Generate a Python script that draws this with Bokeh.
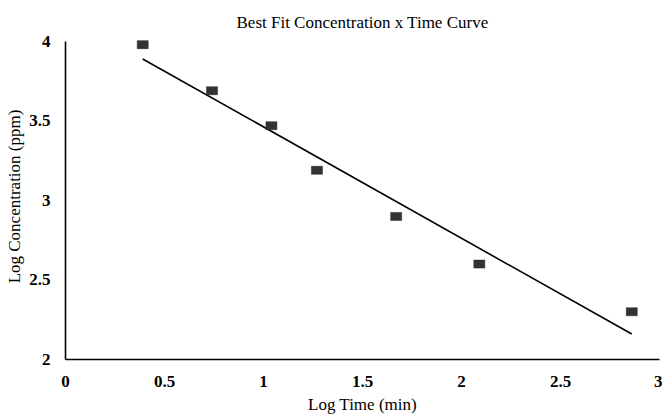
from bokeh.plotting import figure
from bokeh.models import Range1d, FixedTicker
from bokeh.embed import file_html
from bokeh.resources import INLINE

# Data
log_time = [0.39, 0.74, 1.04, 1.27, 1.67, 2.09, 2.86]
log_conc = [3.98, 3.69, 3.47, 3.19, 2.90, 2.60, 2.30]
fit_time = [0.39, 2.86]
fit_conc = [3.89, 2.16]
x_ticks = [0, 0.5, 1, 1.5, 2, 2.5, 3]
y_ticks = [2, 2.5, 3, 3.5, 4]

FONT = "Liberation Serif"

p = figure(width=662, height=418, output_backend="svg", toolbar_location=None,
           x_range=Range1d(0, 3), y_range=Range1d(2, 4.05),
           min_border_left=65, min_border_right=3, min_border_top=33,
           min_border_bottom=59,
           title="Best Fit Concentration x Time Curve")

p.title.text_font = FONT
p.title.text_font_size = "17px"
p.title.text_font_style = "normal"
p.title.align = "center"
p.title.standoff = 4
p.title.text_color = "black"

p.outline_line_color = None
p.grid.visible = False
p.background_fill_color = "white"
p.border_fill_color = "white"

for ax in (p.xaxis[0], p.yaxis[0]):
    ax.major_tick_line_color = None
    ax.minor_tick_line_color = None
    ax.major_tick_out = 0
    ax.major_tick_in = 0
    ax.axis_line_color = "black"
    ax.axis_line_width = 1.6
    ax.major_label_text_font = FONT
    ax.major_label_text_font_size = "17px"
    ax.major_label_text_font_style = "bold"
    ax.major_label_text_color = "black"
    ax.axis_label_text_font = FONT
    ax.axis_label_text_font_size = "17px"
    ax.axis_label_text_font_style = "normal"
    ax.axis_label_text_color = "black"

p.xaxis.ticker = FixedTicker(ticks=x_ticks)
p.yaxis.ticker = FixedTicker(ticks=y_ticks)
p.xaxis.major_label_overrides = {0: "0", 0.5: "0.5", 1: "1", 1.5: "1.5", 2: "2", 2.5: "2.5", 3: "3"}
p.yaxis.major_label_overrides = {2: "2", 2.5: "2.5", 3: "3", 3.5: "3.5", 4: "4"}
p.yaxis.bounds = (2, 4)
p.xaxis.axis_label = "Log Time (min)"
p.yaxis.axis_label = "Log Concentration (ppm)"
p.xaxis.major_label_standoff = 16
p.xaxis.axis_label_standoff = 5
p.yaxis.major_label_standoff = 15
p.yaxis.axis_label_standoff = 2

p.line(fit_time, fit_conc, line_color="black", line_width=1.6)
p.rect(log_time, log_conc, width=11, height=8, width_units="screen",
       height_units="screen", fill_color="#333333", line_color="#222222",
       line_width=0.5)

open("out.html", "w").write(file_html(p, INLINE))
